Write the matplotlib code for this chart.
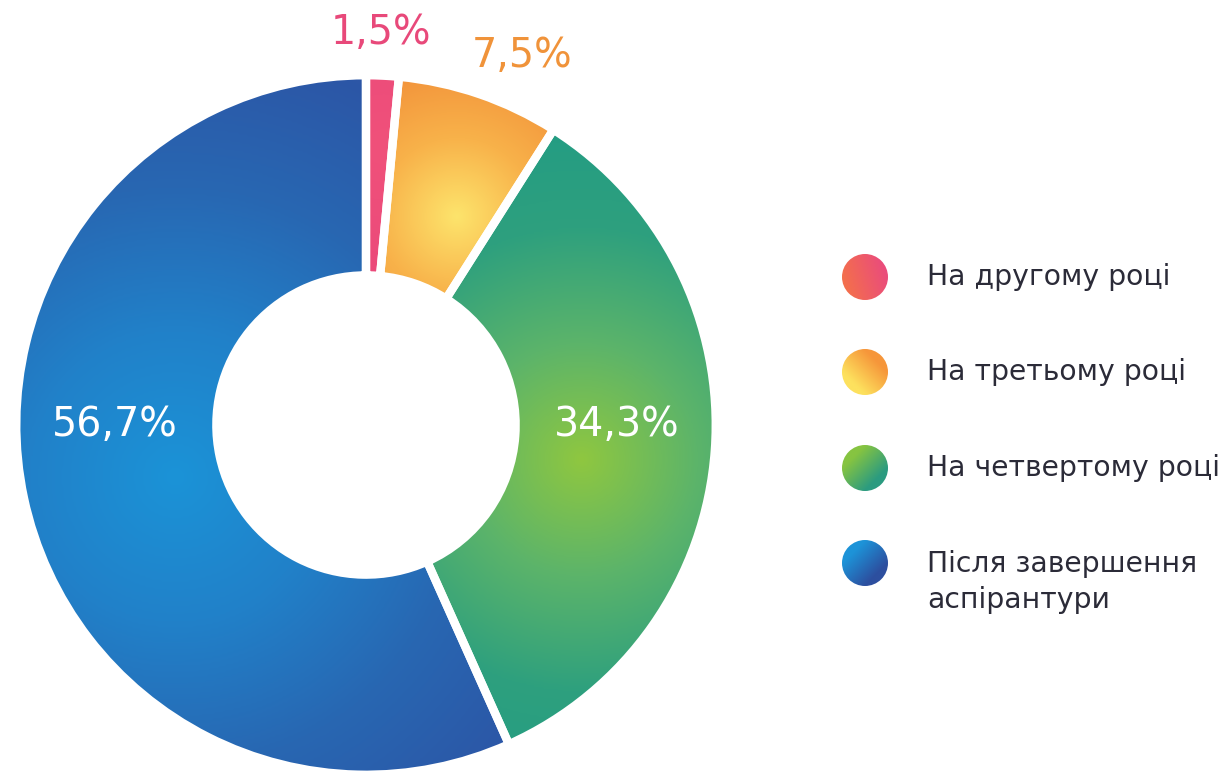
import numpy as np
import matplotlib
matplotlib.use("Agg")
import matplotlib.pyplot as plt
from matplotlib.colors import LinearSegmentedColormap
from matplotlib.patches import Circle

# ---- data ----
categories = ["На другому році", "На третьому році", "На четвертому році",
              "Після завершення\nаспірантури"]
values = [1.5, 7.5, 34.3, 56.7]
value_labels = ["1,5%", "7,5%", "34,3%", "56,7%"]

# ---- style ----
plt.rcParams['font.family'] = ['DejaVu Sans']
W, H = 1228, 771
CX, CY, R = 366, 425, 348  # pie centre / radius in pixels

fig = plt.figure(figsize=(W / 100, H / 100), dpi=100)
ax = fig.add_axes([0, 0, 1, 1])
ax.axis('off')


def px(x, y):
    return (x - CX) / R, (CY - y) / R


# gradient colour maps (light -> dark)
grad_cmaps = [
    LinearSegmentedColormap.from_list("pink", ["#f0517a", "#e8457a"]),
    LinearSegmentedColormap.from_list("orange", ["#fde46c", "#f8b24a", "#f2913a"]),
    LinearSegmentedColormap.from_list("green", ["#8fc740", "#5cb46a", "#2ea07e", "#229c84"]),
    LinearSegmentedColormap.from_list("blue", ["#1b93d7", "#2181c9", "#2867b2", "#2c56a6"]),
]
# radial gradient centres and spreads (axes units)
grad_centres = [(0.05, 0.8), (0.26, 0.60), (0.62, -0.10), (-0.55, -0.15)]
grad_spread = [0.6, 0.45, 1.0, 1.25]

wedges, _ = ax.pie(values, startangle=90, counterclock=False, radius=1.005,
                   center=(0, 0),
                   wedgeprops=dict(width=0.575, edgecolor='white', linewidth=6,
                                   joinstyle='round'))

gx = np.linspace(-1.05, 1.05, 400)
gy = np.linspace(-1.05, 1.05, 400)
GX, GY = np.meshgrid(gx, gy)
for w, cmap, (cx, cy), sp in zip(wedges, grad_cmaps, grad_centres, grad_spread):
    d = np.clip(np.hypot(GX - cx, GY - cy) / sp, 0, 1)
    im = ax.imshow(d, cmap=cmap, extent=(-1.05, 1.05, -1.05, 1.05), origin='lower',
                   vmin=0, vmax=1, zorder=2, interpolation='bilinear')
    im.set_clip_path(w)
    w.set_facecolor('none')
    w.set_zorder(3)

# value labels
label_pos = [(381, 33), (522, 56), (617, 425), (115, 425)]
label_col = ["#e8497a", "#f0933a", "white", "white"]
for txt, (lx, ly), c in zip(value_labels, label_pos, label_col):
    x, y = px(lx, ly)
    ax.text(x, y, txt, color=c, fontsize=28.5, ha='center', va='center', zorder=5)

# legend
leg_y = [277, 372, 468, 563]
leg_cmaps = [
    LinearSegmentedColormap.from_list("lp", ["#f46f4c", "#ea4c7c"]),
    LinearSegmentedColormap.from_list("lo", ["#fde15e", "#f6963a"]),
    LinearSegmentedColormap.from_list("lg", ["#86c441", "#2b9b80"]),
    LinearSegmentedColormap.from_list("lb", ["#1d93d8", "#2d4f9f"]),
]
leg_dirs = [(1, 0.3), (1, 1), (1, -1), (1, -1)]
cr = 23 / R
for yy, cm, (dx, dy), name in zip(leg_y, leg_cmaps, leg_dirs, categories):
    x0, y0 = px(865, yy)
    lx = np.linspace(x0 - cr, x0 + cr, 60)
    ly = np.linspace(y0 - cr, y0 + cr, 60)
    LX, LY = np.meshgrid(lx, ly)
    t = ((LX - x0) * dx + (LY - y0) * dy) / (2 * cr) + 0.5
    circ = Circle((x0, y0), cr, facecolor='none', edgecolor='none', zorder=3)
    ax.add_patch(circ)
    im = ax.imshow(t, cmap=cm, extent=(x0 - cr, x0 + cr, y0 - cr, y0 + cr),
                   origin='lower', vmin=0, vmax=1, zorder=2, interpolation='bilinear')
    im.set_clip_path(circ)
    if '\n' in name:
        tx, ty = px(927, 550)
        va = 'top'
    else:
        tx, ty = px(927, yy)
        va = 'center'
    ax.text(tx, ty, name, fontsize=20.3, color='#2b2b38', ha='left',
            va=va, linespacing=1.35, zorder=5)

ax.set_xlim(-CX / R, (W - CX) / R)
ax.set_ylim(-(H - CY) / R, CY / R)
ax.set_aspect('auto')
fig.savefig("out.png", dpi=100, facecolor='white')
